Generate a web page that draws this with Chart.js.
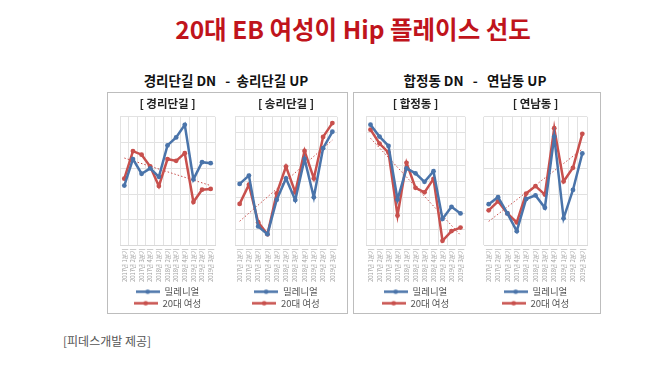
<!DOCTYPE html>
<html>
<head>
<meta charset="utf-8">
<script src="https://cdn.jsdelivr.net/npm/chart.js@4.4.1/dist/chart.umd.min.js"></script>
<style>
  body { margin: 0; background: #fff; font-family: "Noto Sans CJK KR", "Noto Sans", sans-serif; }
  #page { position: relative; width: 666px; height: 377px; overflow: hidden; }
  .txt { position: absolute; white-space: pre; line-height: 1; }
  #title { left: 0; width: 706px; top: 17px; text-align: center; font-size: 24.5px; font-weight: bold; color: #c0141c; }
  .sub { top: 74px; font-size: 13.5px; font-weight: bold; color: #111; text-align: center; }
  .box { position: absolute; border: 1.5px solid #bdbdbd; box-sizing: border-box; }
  .cv { position: absolute; }
  #src { left: 63px; top: 335px; font-size: 12px; color: #555; }
</style>
</head>
<body>
<div id="page">
  <div id="title" class="txt">20대 EB 여성이 Hip 플레이스 선도</div>
  <div class="txt sub" style="left:107px;width:238px">경리단길 DN   -  송리단길 UP</div>
  <div class="txt sub" style="left:353px;width:244px">합정동 DN   -   연남동 UP</div>
  <div class="box" style="left:107px;top:92px;width:241px;height:222px"></div>
  <div class="box" style="left:353px;top:92px;width:248px;height:222px"></div>
  <div class="cv" style="left:114px;top:94px;width:107px;height:224px"><canvas id="c1"></canvas></div>
  <div class="cv" style="left:229px;top:94px;width:114px;height:224px"><canvas id="c2"></canvas></div>
  <div class="cv" style="left:360px;top:94px;width:111px;height:224px"><canvas id="c3"></canvas></div>
  <div class="cv" style="left:478px;top:94px;width:115px;height:224px"><canvas id="c4"></canvas></div>
  <div id="src" class="txt">[피데스개발 제공]</div>
</div>
<script>
const quarters = ['2017년 1분기', '2017년 2분기', '2017년 3분기', '2017년 4분기',
  '2018년 1분기', '2018년 2분기', '2018년 3분기', '2018년 4분기',
  '2019년 1분기', '2019년 2분기', '2019년 3분기']
const seriesNames = ['밀레니얼', '20대 여성']

// 경리단길
const gyeongMil = [2.33, 3.36, 2.79, 3.0, 2.67, 3.89, 4.2, 4.69, 2.57, 3.24, 3.2]
const gyeongFem = [2.6, 3.67, 3.53, 3.07, 2.31, 3.36, 3.29, 3.59, 1.69, 2.17, 2.2]
const gyeongTrend = [3.4, 2.33]
// 송리단길
const songMil = [3.83, 4.35, 1.19, 0.71, 2.85, 4.17, 2.83, 5.38, 3.0, 6.05, 7.07]
const songFem = [2.59, 3.78, 1.45, 0.71, 3.24, 4.91, 3.31, 5.88, 4.17, 6.75, 7.61]
const songTrend = [1.51, 6.55]
// 합정동
const hapMil = [7.51, 6.77, 6.19, 2.86, 4.8, 4.49, 3.96, 4.62, 1.66, 2.41, 2.0]
const hapFem = [7.2, 6.34, 5.78, 1.87, 5.14, 3.59, 3.31, 4.15, 0.3, 0.9, 1.12]
const hapTrend = [6.67, 0.65]
// 연남동
const yeonMil = [1.61, 1.88, 1.25, 0.56, 1.81, 1.95, 1.47, 4.23, 1.06, 2.16, 3.58]
const yeonFem = [1.37, 1.72, 1.25, 0.9, 2.02, 2.31, 1.98, 4.56, 2.49, 3.02, 4.34]
const yeonTrend = [0.94, 3.75]

const BLUE = '#4a74aa'
const RED = '#c8504d'

// legend marker: line with a dot in the middle
function makeMarker (color) {
  const c = document.createElement('canvas')
  c.width = 24
  c.height = 7
  const g = c.getContext('2d')
  g.strokeStyle = color
  g.lineWidth = 2.5
  g.beginPath()
  g.moveTo(0, 3.5)
  g.lineTo(24, 3.5)
  g.stroke()
  g.fillStyle = color
  g.beginPath()
  g.arc(12, 3.5, 2.3, 0, Math.PI * 2)
  g.fill()
  return c
}
const markers = [makeMarker(BLUE), makeMarker(RED)]

function lineSet (label, data, color) {
  return {
    label,
    data,
    borderColor: color,
    backgroundColor: color,
    borderWidth: 2.5,
    pointRadius: 2.4,
    pointBorderWidth: 0,
    pointBackgroundColor: color,
    tension: 0
  }
}

function drawChart (id, title, mil, fem, trend, yMax) {
  new Chart(document.getElementById(id), {
    type: 'line',
    data: {
      labels: quarters,
      datasets: [
        lineSet(seriesNames[0], mil, BLUE),
        lineSet(seriesNames[1], fem, RED),
        {
          label: 'trend',
          data: [{ x: quarters[0], y: trend[0] }, { x: quarters[quarters.length - 1], y: trend[1] }],
          borderColor: '#c8504d',
          borderWidth: 1,
          borderDash: [1.5, 2],
          pointRadius: 0
        }
      ]
    },
    options: {
      responsive: true,
      maintainAspectRatio: false,
      animation: false,
      layout: { padding: { left: 6, right: 6, top: 0, bottom: 0 } },
      plugins: {
        title: {
          display: true,
          text: title,
          color: '#222',
          font: { size: 11.5, weight: 'bold', family: 'Noto Sans CJK KR' },
          padding: { top: 3, bottom: 6 }
        },
        legend: {
          position: 'bottom',
          labels: {
            usePointStyle: true,
            pointStyleWidth: 24,
            padding: 2,
            color: '#555',
            font: { size: 9.5, family: 'Noto Sans CJK KR' },
            generateLabels (chart) {
              const items = Chart.defaults.plugins.legend.labels.generateLabels(chart)
              return items
                .filter(it => it.datasetIndex < 2)
                .map(it => Object.assign(it, { pointStyle: markers[it.datasetIndex] }))
            }
          }
        },
        tooltip: { enabled: false }
      },
      scales: {
        x: {
          offset: true,
          grid: { offset: true, color: '#e2e2e2', drawTicks: false },
          border: { color: '#d9d9d9' },
          ticks: {
            autoSkip: false,
            minRotation: 90,
            maxRotation: 90,
            padding: 3,
            color: '#a0a0a0',
            font: { size: 5.8, family: 'Noto Sans CJK KR' }
          }
        },
        y: {
          min: 0,
          max: yMax,
          ticks: { display: false, stepSize: 1 },
          grid: { color: '#e2e2e2', drawTicks: false },
          border: { display: false }
        }
      }
    }
  })
}

drawChart('c1', '[ 경리단길 ]', gyeongMil, gyeongFem, gyeongTrend, 5)
drawChart('c2', '[ 송리단길 ]', songMil, songFem, songTrend, 8)
drawChart('c3', '[ 합정동 ]', hapMil, hapFem, hapTrend, 8)
drawChart('c4', '[ 연남동 ]', yeonMil, yeonFem, yeonTrend, 5)
</script>
</body>
</html>
